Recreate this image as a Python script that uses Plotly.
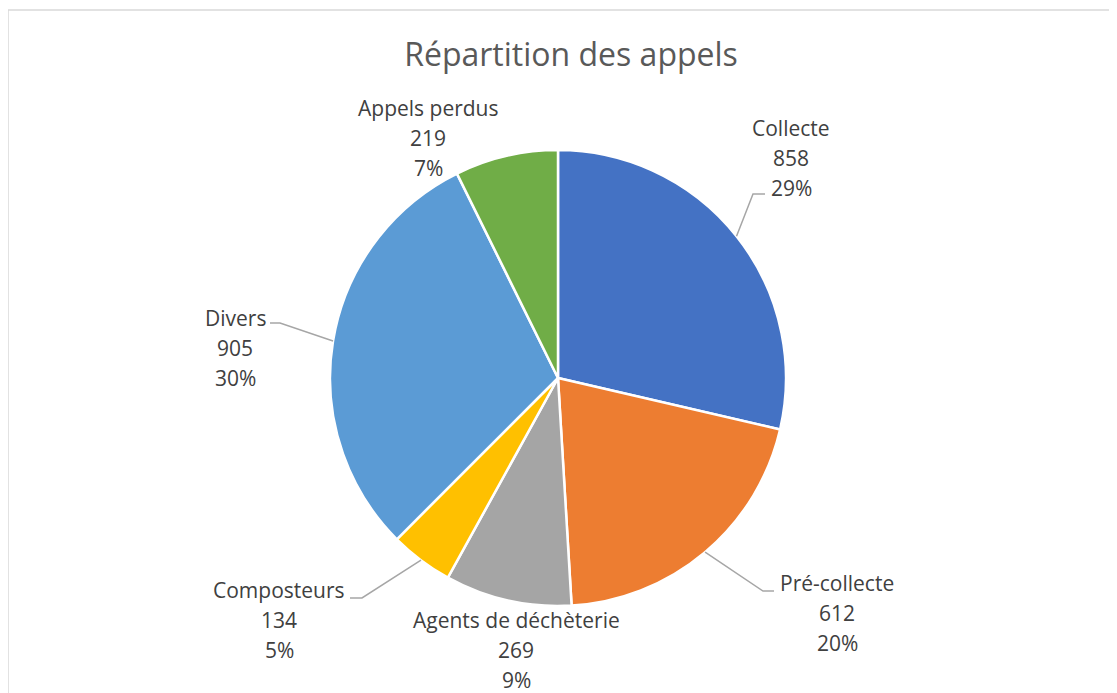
import math
import plotly.graph_objects as go

categories = ["Collecte", "Pré-collecte", "Agents de déchèterie", "Composteurs", "Divers", "Appels perdus"]
values = [858, 612, 269, 134, 905, 219]
percent_labels = ["29%", "20%", "9%", "5%", "30%", "7%"]
colors = ["#4472C4", "#ED7D31", "#A5A5A5", "#FFC000", "#5B9BD5", "#70AD47"]

W, H = 1117, 693
OFF = 8  # page body margin
CX, CY, R = 558, 378, 228  # pie centre / radius in pixels (screen)

# label centres (pixels) and leader-line elbow + end (None = no line)
LABEL_POS = [(791, 158), (837, 613), (516, 650), (279, 620), (235, 348), (428, 138)]
LEADER = [((753, 194), (765, 194)), ((763, 591), (774, 591)), None,
          ((362, 598), (350, 598)), ((280, 323), (270, 323)), None]
LINE_GAP = 30

FONT = "Open Sans, sans-serif"


def to_paper(x, y):
    return (x - OFF) / W, 1 - (y - OFF) / H


fig = go.Figure(go.Pie(
    labels=categories,
    values=values,
    sort=False,
    direction="clockwise",
    rotation=0,
    textinfo="none",
    marker=dict(colors=colors, line=dict(color="white", width=2.5)),
    domain=dict(x=[(CX - OFF - R) / W, (CX - OFF + R) / W],
                y=[(H - (CY - OFF) - R) / H, (H - (CY - OFF) + R) / H]),
    showlegend=False,
    hoverinfo="label+value+percent",
))

total = sum(values)
cum = 0
annotations = []
shapes = []
for name, v, pct, pos, lead in zip(categories, values, percent_labels, LABEL_POS, LEADER):
    theta = 2 * math.pi * (cum + v / 2) / total
    cum += v
    for k, line in enumerate([name, str(v), pct]):
        lx, ly = to_paper(pos[0], pos[1] + (k - 1) * LINE_GAP)
        annotations.append(dict(
            x=lx, y=ly, xref="paper", yref="paper", xanchor="center", yanchor="middle",
            text=line, showarrow=False,
            font=dict(family=FONT, size=21, color="#404040"),
        ))
    if lead:
        sx, sy = CX + R * math.sin(theta), CY - R * math.cos(theta)
        pts = [to_paper(sx, sy), to_paper(*lead[0]), to_paper(*lead[1])]
        path = "M {} {} L {} {} L {} {}".format(*[c for p in pts for c in p])
        shapes.append(dict(type="path", xref="paper", yref="paper", path=path,
                           line=dict(color="#A6A6A6", width=1.5)))

# chart frame
fx, fy = to_paper(8, 10)
shapes.append(dict(type="rect", xref="paper", yref="paper",
                   x0=fx, y0=-0.05, x1=1.05, y1=fy,
                   line=dict(color="#D9D9D9", width=1.5)))

tx, ty = to_paper(571, 55)
fig.update_layout(
    width=W, height=H,
    margin=dict(t=0, b=0, l=0, r=0),
    paper_bgcolor="white",
    plot_bgcolor="white",
    title=dict(text="Répartition des appels", x=tx, y=ty,
               xanchor="center", yanchor="middle",
               font=dict(family=FONT, size=32, color="#595959")),
    annotations=annotations,
    shapes=shapes,
)

fig.write_html("out.html")
